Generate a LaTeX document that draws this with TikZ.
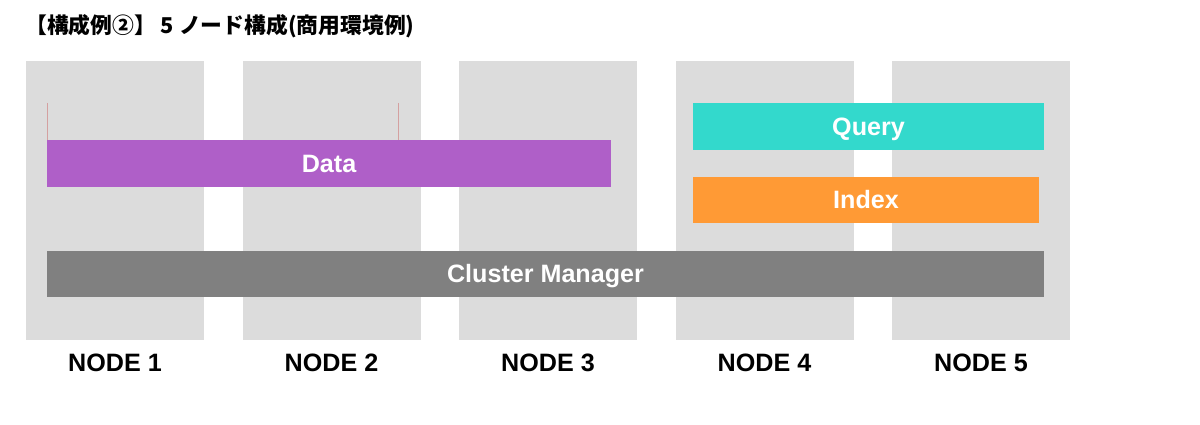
\documentclass[tikz,border=0pt]{standalone}
\usepackage{fontspec}
\setmainfont{Liberation Sans}
\newfontfamily\cjk{Noto Sans CJK JP}
\usetikzlibrary{positioning}
\definecolor{colgray}{HTML}{DCDCDC}
\definecolor{datacol}{HTML}{AF5FC8}
\definecolor{querycol}{HTML}{33D9CC}
\definecolor{indexcol}{HTML}{FF9A35}
\definecolor{clustercol}{HTML}{808080}
\definecolor{tickcol}{HTML}{D4A0A0}
\begin{document}
\begin{tikzpicture}[node distance=4.33cm]
                \tikzset{ column/.style={rectangle,fill=colgray,minimum width=3.56cm,minimum height=5.58cm,inner sep=0pt},
                        bar/.style={rectangle,minimum height=0.94cm,inner sep=0pt,text=white,text height=10.2pt,text depth=0pt,font=\bfseries\fontsize{14.3}{17}\selectfont},
                        nodelabel/.style={text height=10.2pt,text depth=0pt,font=\bfseries\fontsize{14.3}{17}\selectfont}}
                \useasboundingbox (0,0) rectangle (24,-8.5);
                \node[anchor=west, font=\cjk\bfseries\fontsize{12.4}{14}\selectfont] (title) at (0.38,-0.52) {【構成例②】 5 ノード構成(商用環境例)};

                % Spalten
                \node[column] (col1) at (2.30,-4.01) {};
                \node[column, right of = col1] (col2) {};
                \node[column, right of = col2] (col3) {};
                \node[column, right of = col3] (col4) {};
                \node[column, right of = col4] (col5) {};

                \foreach \i in {1,...,5}
                    \node[nodelabel, below of = col\i, yshift=1.09cm] (label\i) {NODE \i};

                % Balken
                \node[bar, fill=datacol, minimum width=11.28cm] (data) at (6.58,-3.27) {Data};
                \node[bar, fill=querycol, minimum width=7.02cm] (query) at (17.37,-2.53) {Query};
                \node[bar, fill=indexcol, minimum width=6.92cm, minimum height=0.92cm] (index) at (17.32,-4.0) {Index};
                \node[bar, fill=clustercol, minimum width=19.94cm, minimum height=0.92cm] (cluster) at (10.91,-5.48) {Cluster Manager};

                \coordinate (tickA) at (0.94,-2.06);
                \coordinate (tickB) at (7.96,-2.06);
                \draw[tickcol, line width=0.5pt] (tickA) -- (tickA |- data.north);
                \draw[tickcol, line width=0.5pt] (tickB) -- (tickB |- data.north);

            \end{tikzpicture}
\end{document}
